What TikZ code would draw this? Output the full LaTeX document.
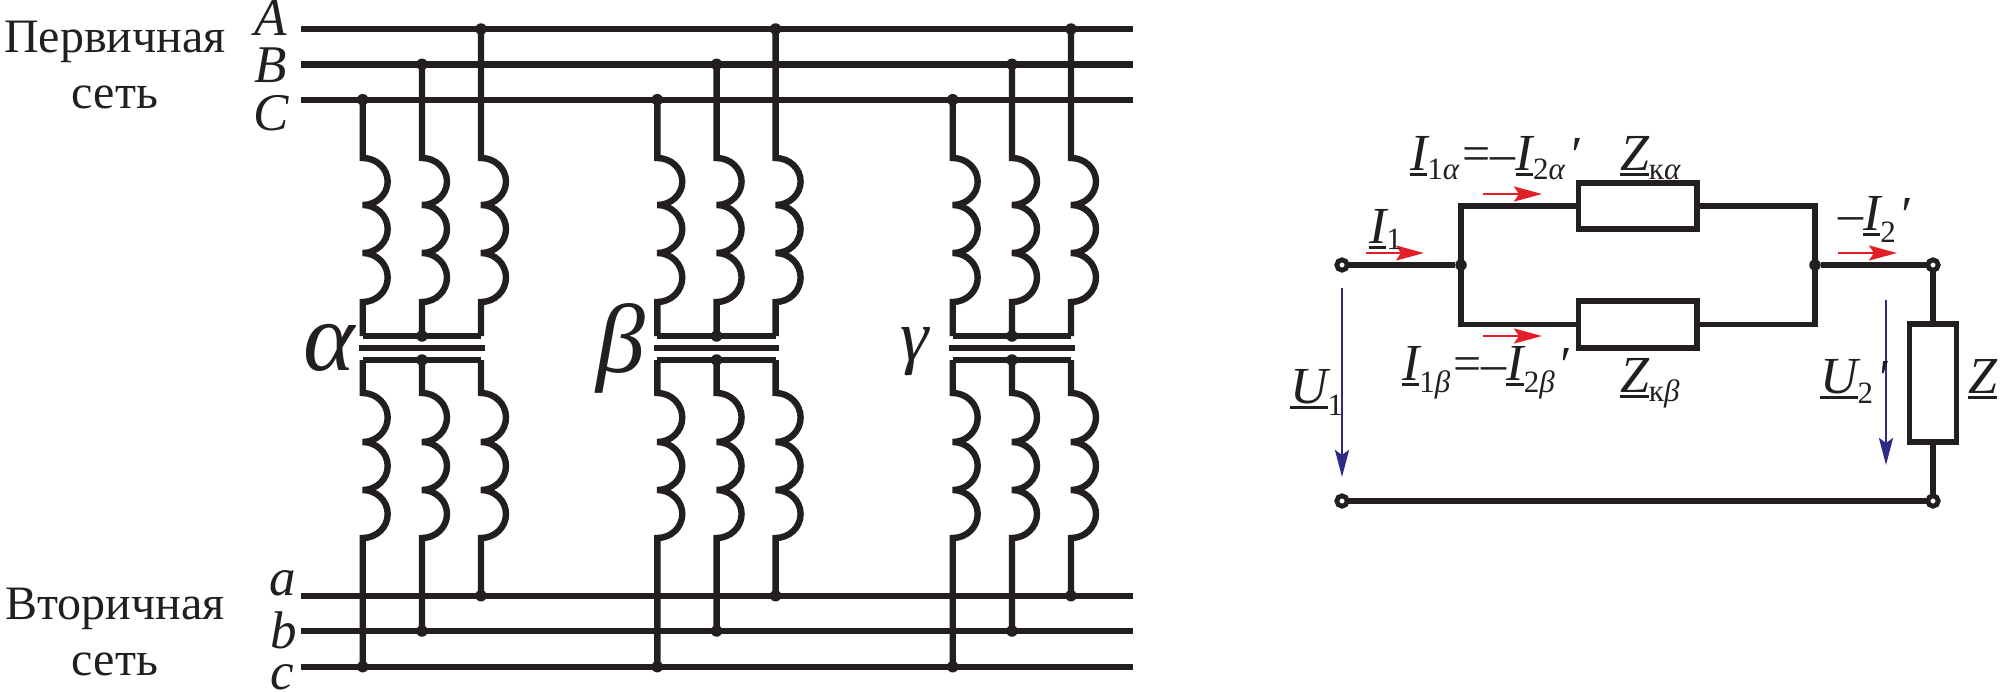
\documentclass[tikz,border=0pt]{standalone}
\usepackage{fontspec}
\setmainfont{Liberation Serif}
\usetikzlibrary{arrows.meta}
\definecolor{ink}{HTML}{231F20}
\definecolor{redarrow}{HTML}{E01F26}
\definecolor{bluearrow}{HTML}{2E2A85}
\newcommand\fsz[1]{\fontsize{#1}{#1}\selectfont}
\newcommand\ulbox[2][52]{\setbox0=\hbox{\fsz{#1}\itshape #2}\rlap{\rule[-6pt]{\wd0}{2.6pt}}\box0}
\newcommand\lowtxt[2][9pt]{\raisebox{-#1}{\fsz{31}#2}}
\newcommand\primemark{\raisebox{-2pt}{\fsz{52}\itshape\char"2032}}
\tikzset{
  x=1pt,y=-1pt,
  wire/.style={draw=ink,line width=6.4pt},
  cwire/.style={draw=ink,line width=5.4pt},
  dot/.style={circle,fill=ink,inner sep=0pt,minimum size=11.5pt,outer sep=0pt},
  term/.style={circle,draw=ink,fill=white,line width=4.8pt,inner sep=0pt,minimum size=10.4pt,outer sep=0pt},
  zbox/.style={rectangle,draw=ink,line width=5.6pt,fill=white,inner sep=0pt,outer sep=0pt},
  txt/.style={anchor=base west,inner sep=0pt,outer sep=0pt,text=ink},
  ctxt/.style={anchor=base,inner sep=0pt,outer sep=0pt,text=ink},
  redarr/.style={draw=redarrow,line width=2.4pt,-{Stealth[length=28pt,width=15pt,inset=5pt]}},
  bluearr/.style={draw=bluearrow,line width=2.6pt,-{Stealth[length=27pt,width=14pt,inset=5pt]}},
  halfturn/.style={start angle=-90,end angle=90,x radius=25,y radius=24},
}
\begin{document}
\begin{tikzpicture}
\useasboundingbox (0,0) rectangle (2000,691);
% buses
\foreach \n/\y in {A/29,B/64.3,C/99.7,a/595.7,b/631,c/666.7}{
  \coordinate (\n L) at (301,\y);
  \coordinate (\n R) at (1133,\y);
  \draw[wire] (\n L) -- (\n R);
}
% transformer groups
\foreach \g/\xo in {p/0,q/294.6,r/590}{
  \foreach \ph/\xx/\yu/\yl in {1/362.7/99.7/666.7,2/422/64.3/631,3/481/29/595.7}{
    \pgfmathsetmacro\X{\xx+\xo}
    \node[dot] (\g\ph u) at (\X,\yu) {};
    \node[dot] (\g\ph l) at (\X,\yl) {};
    \coordinate (\g\ph s) at (\X,336);
    \coordinate (\g\ph t) at (\X,360);
    \draw[wire,line join=miter] (\g\ph u.center) -- (\X,158)
      arc[halfturn,y radius=23.5] arc[halfturn] arc[halfturn,y radius=24.5] -- (\g\ph s);
    \draw[wire,line join=miter] (\g\ph t) -- (\X,393)
      arc[halfturn,y radius=24.5] arc[halfturn] arc[halfturn] -- (\g\ph l.center);
  }
  \draw[wire,line join=miter,line width=6pt] (\g1u.center |- \g1s) ++(0,0) -- (\g3s);
  \draw[wire,line join=miter,line width=6pt] (\g1t) -- (\g3t);
  \node[dot] (\g b) at (\g2s) {};
  \node[dot] (\g e) at (\g2t) {};
  \pgfmathsetmacro\Xa{359+\xo}
  \pgfmathsetmacro\Xb{484.5+\xo}
  \coordinate (\g cl) at (\Xa,348);
  \coordinate (\g cr) at (\Xb,348);
  \draw[draw=ink,line width=6pt] (\g cl) -- (\g cr);
}
% network labels
\node[ctxt,font=\fsz{48}] (prim) at (115,52) {Первичная};
\node[ctxt,font=\fsz{48}] (prims) at (115,108) {сеть};
\node[ctxt,font=\fsz{48}] (sec) at (115,619) {Вторичная};
\node[ctxt,font=\fsz{48}] (secs) at (115,675) {сеть};
\node[txt,font=\fsz{53}\itshape] (lA) at (254,35) {A};
\node[txt,font=\fsz{53}\itshape] (lB) at (254,82) {B};
\node[txt,font=\fsz{53}\itshape] (lC) at (253,130) {C};
\node[txt,font=\fsz{53}\itshape] (la) at (269,595) {a};
\node[txt,font=\fsz{53}\itshape] (lb) at (270,648) {b};
\node[txt,font=\fsz{53}\itshape] (lc) at (270,689) {c};
\node[txt,font=\fsz{98}\itshape] (lalpha) at (303,370) {α};
\node[txt,font=\fsz{98}\itshape] (lbeta) at (596,372) {β};
\node[txt,font=\fsz{72}\itshape] (lgamma) at (900,360) {γ};
% equivalent circuit
\node[term] (tl) at (1342,265) {};
\node[term] (bl) at (1342,501) {};
\node[term] (tr) at (1933,265) {};
\node[term] (br) at (1933,501) {};
\node[dot] (nl) at (1461,265) {};
\node[dot] (nr) at (1815,265) {};
\node[zbox,minimum width=118.5pt,minimum height=46.5pt] (za) at (1637.7,206) {};
\node[zbox,minimum width=118.5pt,minimum height=46.5pt] (zb) at (1637.7,324.5) {};
\node[zbox,minimum width=47pt,minimum height=118pt] (zl) at (1933,383) {};
\begin{scope}[on background layer/.try]
\draw[cwire] (tl) -- (nl);
\draw[cwire] (nr) -- (tr);
\draw[cwire] (bl) -- (br);
\draw[cwire,line join=miter] (nl.center) |- (za.west);
\draw[cwire,line join=miter] (nl.center) |- (zb.west);
\draw[cwire,line join=miter] (nr.center) |- (za.east);
\draw[cwire,line join=miter] (nr.center) |- (zb.east);
\draw[cwire] (tr) -- (zl.north);
\draw[cwire] (zl.south) -- (br);
\end{scope}
% arrows
\coordinate (ra1) at (1366,253); \coordinate (ra2) at (1424,253);
\coordinate (rb1) at (1483,194); \coordinate (rb2) at (1542,194);
\coordinate (rc1) at (1483,336); \coordinate (rc2) at (1542,336);
\coordinate (rd1) at (1838,253); \coordinate (rd2) at (1897,253);
\coordinate (ba1) at (1342,288); \coordinate (ba2) at (1342,477);
\coordinate (bb1) at (1886,300); \coordinate (bb2) at (1886,465);
\draw[redarr] (ra1) -- (ra2);
\draw[redarr] (rb1) -- (rb2);
\draw[redarr] (rc1) -- (rc2);
\draw[redarr] (rd1) -- (rd2);
\draw[bluearr] (ba1) -- (ba2);
\draw[bluearr] (bb1) -- (bb2);
% circuit labels
\node[txt] (i1a) at (1410,170) {\ulbox{I}\lowtxt{1\textit{α}}\kern3pt{\fsz{50}=}\kern0pt{\fsz{50}–}\ulbox{I}\lowtxt{2\textit{α}}\kern3pt\primemark};
\node[txt] (zka) at (1620,170) {\ulbox{Z}\lowtxt{к\textit{α}}};
\node[txt] (i1b) at (1402,380) {\ulbox{I}\lowtxt[12pt]{1\textit{β}}\kern3pt{\fsz{50}=}\kern0pt{\fsz{50}–}\ulbox{I}\lowtxt[12pt]{2\textit{β}}\kern3pt\primemark};
\node[txt] (zkb) at (1620,392) {\ulbox{Z}\lowtxt{к\textit{β}}};
\node[txt] (i1) at (1369,243) {\ulbox{I}\lowtxt[6pt]{1}};
\node[txt] (i2) at (1838,230) {{\fsz{50}–}\ulbox{I}\lowtxt[12pt]{2}\kern3pt\primemark};
\node[txt] (u1) at (1290,403) {\ulbox{U}\lowtxt[12pt]{1}};
\node[txt] (u2) at (1820,393) {\ulbox{U}\lowtxt[10pt]{2}\kern3pt\primemark};
\node[txt] (zz) at (1968,393) {\ulbox{Z}};
\end{tikzpicture}
\end{document}
